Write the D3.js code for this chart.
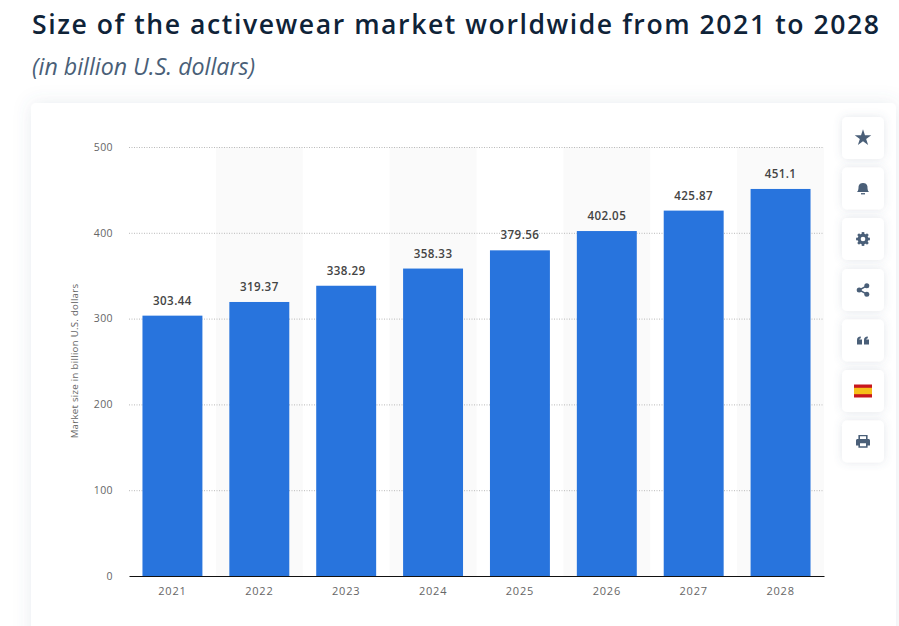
<!DOCTYPE html>
<html><head><meta charset="utf-8">
<script src="https://cdn.jsdelivr.net/npm/d3@7"></script>
<style>
html,body{margin:0;padding:0;background:#fff;overflow:hidden}
svg{display:block}
text{font-family:"Open Sans",sans-serif}
</style></head><body>
<svg id="c" width="899" height="626"></svg>
<script>
const years=["2021","2022","2023","2024","2025","2026","2027","2028"];
const values=[303.44,319.37,338.29,358.33,379.56,402.05,425.87,451.1];
const valueLabels=["303.44","319.37","338.29","358.33","379.56","402.05","425.87","451.1"];
const yTicks=[0,100,200,300,400,500];
const titleText="Size of the activewear market worldwide from 2021 to 2028";
const subtitleText="(in billion U.S. dollars)";
const yAxisTitle="Market size in billion U.S. dollars";

const svg=d3.select("#c");
const defs=svg.append("defs");
const mk=(id,sd,op)=>{const f=defs.append("filter").attr("id",id).attr("x","-30%").attr("y","-30%").attr("width","160%").attr("height","160%");
 f.append("feDropShadow").attr("dx",0).attr("dy",0).attr("stdDeviation",sd).attr("flood-color","#5b6b85").attr("flood-opacity",op);};
mk("card",9,0.13);mk("btn",4,0.16);

svg.append("text").attr("x",32).attr("y",34).attr("font-size",26.6).attr("font-weight",600).attr("fill","#0f2338").attr("textLength",847).attr("lengthAdjust","spacing").text(titleText);
svg.append("text").attr("x",32).attr("y",75).attr("font-size",23.2).attr("font-style","italic").attr("fill","#4a5f78").text(subtitleText);

svg.append("rect").attr("x",31).attr("y",103).attr("width",865).attr("height",560).attr("rx",5).attr("fill","#fff").attr("filter","url(#card)");

const x=d3.scaleBand().domain(years).range([129,824]).paddingInner(0).paddingOuter(0);
const y=d3.scaleLinear().domain([0,500]).range([576,147]);
const barW=x.bandwidth()*0.69;

svg.append("g").selectAll("rect").data(years.filter((d,i)=>i%2===1)).join("rect")
 .attr("x",d=>x(d)).attr("width",x.bandwidth()).attr("y",y(500)).attr("height",y(0)-y(500)).attr("fill","#fafafa");

const gy=svg.append("g").attr("transform","translate(129,0)").call(d3.axisLeft(y).tickValues(yTicks).tickSize(0).tickPadding(16));
gy.select(".domain").remove();
gy.selectAll("text").attr("font-size",10.5).attr("fill","#666").attr("letter-spacing",".4px").style("font-family",'"Open Sans",sans-serif');
gy.selectAll("line").attr("x2",695).attr("stroke","#b9b9b9").attr("stroke-width",1).attr("stroke-dasharray","1 1.5");
gy.selectAll(".tick").filter(d=>d===0).select("line").remove();

svg.append("text").attr("transform","translate(78,361) rotate(-90)").attr("text-anchor","middle").attr("font-size",9.6).attr("letter-spacing",".3px").attr("fill","#666").text(yAxisTitle);

svg.append("g").selectAll("rect").data(years).join("rect")
 .attr("x",d=>x(d)+(x.bandwidth()-barW)/2).attr("width",barW)
 .attr("y",(d,i)=>y(values[i])).attr("height",(d,i)=>y(0)-y(values[i])).attr("fill","#2874dd");

svg.append("g").selectAll("text").data(years).join("text")
 .attr("x",d=>x(d)+x.bandwidth()/2).attr("y",(d,i)=>y(values[i])-11)
 .attr("text-anchor","middle").attr("font-size",11.6).attr("font-weight",600).attr("letter-spacing",".4px").attr("fill","#444")
 .text((d,i)=>valueLabels[i]);

const gx=svg.append("g").attr("transform","translate(0,576)").call(d3.axisBottom(x).tickSize(0).tickPadding(11));
gx.select(".domain").attr("stroke","#111").attr("stroke-width",1.2);
gx.selectAll("text").attr("font-size",11).attr("fill","#666").attr("letter-spacing",".8px").style("font-family",'"Open Sans",sans-serif');

// side toolbar
const ic="#4a5f78";
const btnYs=[138,188.5,239,290,340.5,391,441.5];
const btn=svg.append("g").selectAll("g").data(btnYs).join("g").attr("transform",d=>`translate(863,${d})`);
btn.append("rect").attr("x",-21).attr("y",-21).attr("width",42).attr("height",42).attr("rx",5).attr("fill","#fff").attr("filter","url(#btn)");
const at=i=>svg.append("g").attr("transform",`translate(863,${btnYs[i]})`).attr("fill",ic);
at(0).append("path").attr("d",d3.symbol(d3.symbolStar,85)());
const b=at(1);b.append("path").attr("d","M-6,3.6 C-4.2,2 -4.6,-1 -4.4,-2.2 C-4.1,-4.4 -2.3,-5.6 0,-5.6 C2.3,-5.6 4.1,-4.4 4.4,-2.2 C4.6,-1 4.2,2 6,3.6 Z");
b.append("rect").attr("x",-2).attr("y",4.6).attr("width",4).attr("height",1.3);
const g=at(2);
g.append("circle").attr("r",3.9).attr("fill","none").attr("stroke",ic).attr("stroke-width",3.1);
d3.range(8).forEach(i=>g.append("rect").attr("x",-1.3).attr("y",-6.9).attr("width",2.6).attr("height",2.4).attr("transform",`rotate(${i*45})`));
const s=at(3);
s.append("path").attr("d","M3.8,-4.2 L-3.8,0 L3.8,4.2").attr("fill","none").attr("stroke",ic).attr("stroke-width",1.5);
[[3.8,-4.2],[-3.8,0],[3.8,4.2]].forEach(p=>s.append("circle").attr("cx",p[0]).attr("cy",p[1]).attr("r",2.5));
const q=at(4);
q.append("path").attr("d","M-6,4 V-0.5 C-6,-2.6 -4.8,-3.6 -2.2,-3.9 V-2.3 C-3.2,-2.1 -3.7,-1.7 -3.7,-0.9 H-1 V4 Z M1,4 V-0.5 C1,-2.6 2.2,-3.6 4.8,-3.9 V-2.3 C3.8,-2.1 3.3,-1.7 3.3,-0.9 H6 V4 Z");
const fl=svg.append("g").attr("transform",`translate(863,${btnYs[5]})`);
fl.append("rect").attr("x",-9).attr("y",-6.5).attr("width",18).attr("height",13).attr("fill","#c8161d");
fl.append("rect").attr("x",-9).attr("y",-3.2).attr("width",18).attr("height",6.4).attr("fill","#f6bf1a");
const pr=at(6);
pr.append("path").attr("fill-rule","evenodd").attr("d","M-4.6,-2.4 V-6.6 H4.6 V-2.4 H5.4 C6.4,-2.4 7,-1.7 7,-0.8 V4 H4.6 V6.2 H-4.6 V4 H-7 V-0.8 C-7,-1.7 -6.4,-2.4 -5.4,-2.4 Z M-3,-5.2 V-2.4 H3 V-5.2 Z M-3,1.8 V4.8 H3 V1.8 Z");
</script></body></html>
